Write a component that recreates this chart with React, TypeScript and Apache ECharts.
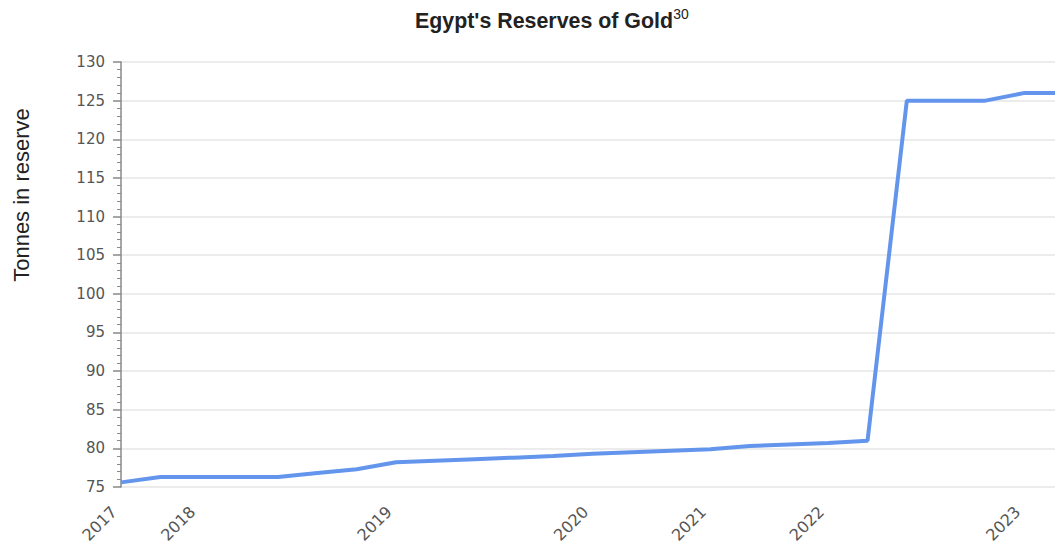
import { useEffect, useRef } from "react";
import * as echarts from "echarts";

// Period keys: "year.n" — the first period of each year carries the year label
const periods = [
  "2017.1", "2017.2",
  "2018.1", "2018.2", "2018.3", "2018.4", "2018.5",
  "2019.1", "2019.2", "2019.3", "2019.4", "2019.5",
  "2020.1", "2020.2", "2020.3",
  "2021.1", "2021.2", "2021.3",
  "2022.1", "2022.2", "2022.3", "2022.4", "2022.5",
  "2023.1", "2023.2",
];

const tonnes = [
  75.6, 76.3,
  76.3, 76.3, 76.3, 76.8, 77.3,
  78.2, 78.4, 78.6, 78.8, 79.0,
  79.3, 79.5, 79.7,
  79.9, 80.3, 80.5,
  80.7, 81.0, 125.0, 125.0, 125.0,
  126.0, 126.0,
];

const titleText = "Egypt's Reserves of Gold";
const titleNote = "30";
const yAxisName = "Tonnes in reserve";

export default function App() {
  const ref = useRef<HTMLDivElement>(null);

  useEffect(() => {
    document.body.style.margin = "0";
    const chart = echarts.init(ref.current!, null, { renderer: "svg" });
    chart.setOption({
      animation: false,
      backgroundColor: "#ffffff",
      graphic: [
        {
          type: "text",
          x: 415,
          y: 6,
          scaleX: 0.93,
          style: {
            text: `{a|${titleText}}{b|${titleNote}}`,
            verticalAlign: "top",
            rich: {
              a: {
                font: 'bold 23px "Liberation Sans"',
                fill: "#222222",
                lineHeight: 28,
              },
              b: {
                font: '15px "Liberation Sans"',
                fill: "#222222",
                verticalAlign: "top",
                lineHeight: 28,
              },
            },
          },
        },
        {
          type: "text",
          x: 21,
          y: 195,
          rotation: Math.PI / 2,
          style: {
            text: yAxisName,
            font: '22px "Liberation Sans"',
            fill: "#222222",
            align: "center",
            verticalAlign: "middle",
          },
        },
      ],
      grid: {
        left: 121,
        width: 943,
        top: 62,
        bottom: 60,
        containLabel: false,
        outerBoundsMode: "none",
      },
      xAxis: {
        type: "category",
        data: periods,
        boundaryGap: false,
        axisLine: { show: false },
        axisTick: { show: false },
        splitLine: { show: false },
        axisLabel: {
          rotate: 45,
          interval: (_i: number, v: string) => v.endsWith(".1"),
          formatter: (v: string) => v.split(".")[0],
          color: "#555555",
          fontSize: 16,
          fontFamily: "DejaVu Sans",
          margin: 15,
          padding: [0, 10, 0, 0],
        },
      },
      yAxis: {
        type: "value",
        min: 75,
        max: 130,
        interval: 5,
        axisLine: { show: true, lineStyle: { color: "#888888", width: 1.5 } },
        axisTick: { show: true, length: 8, lineStyle: { color: "#888888", width: 1.5 } },
        minorTick: { show: true, splitNumber: 5, length: 4, lineStyle: { color: "#888888", width: 1 } },
        splitLine: { show: true, lineStyle: { color: "#e6e6e6", width: 1.5 } },
        axisLabel: {
          color: "#555555",
          fontSize: 15,
          fontFamily: "DejaVu Sans",
          margin: 16,
        },
      },
      series: [
        {
          type: "line",
          data: tonnes,
          showSymbol: false,
          symbol: "none",
          lineStyle: { color: "#6495ED", width: 4 },
          itemStyle: { color: "#6495ED" },
        },
      ],
    });
    return () => chart.dispose();
  }, []);

  return <div ref={ref} style={{ width: 1055, height: 547 }} />;
}
